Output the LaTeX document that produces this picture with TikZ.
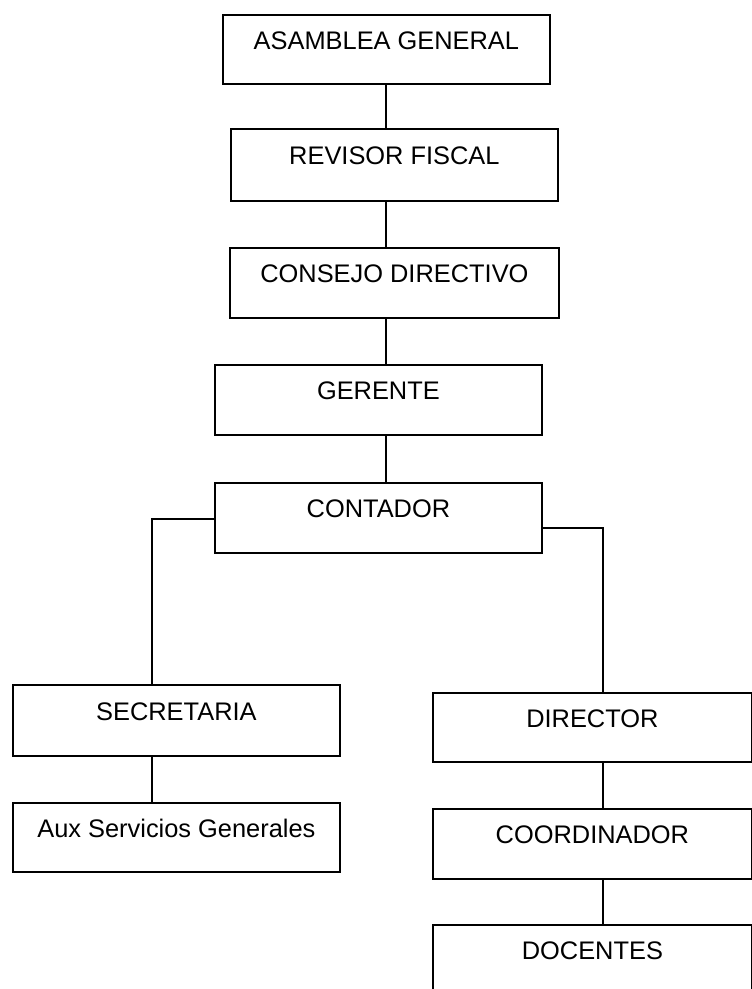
\documentclass[tikz,border=0pt]{standalone}
\usepackage{fontspec}
\setmainfont{Liberation Sans}
\begin{document}
\begin{tikzpicture}[x=1pt,y=-1pt,
  orgbox/.style={draw, line width=1.8pt, rectangle, anchor=north west, inner sep=0pt,
    text height=18pt, text depth=18pt, font=\fontsize{25.4}{30}\selectfont},
  link/.style={line width=1.8pt}]
\clip (0,0) rectangle (752,989);
\fill[white] (0,0) rectangle (752,989);
\node[orgbox, minimum width=327pt, minimum height=69pt] (A) at (222,14) {ASAMBLEA GENERAL};
\node[orgbox, minimum width=327pt, minimum height=72pt] (R) at (230,128) {REVISOR FISCAL};
\node[orgbox, minimum width=329pt, minimum height=70pt] (C) at (229,247) {CONSEJO DIRECTIVO};
\node[orgbox, minimum width=327pt, minimum height=70pt] (G) at (214,364) {GERENTE};
\node[orgbox, minimum width=327pt, minimum height=70pt] (K) at (214,482) {CONTADOR};
\node[orgbox, minimum width=327pt, minimum height=71pt] (S) at (12,684) {SECRETARIA};
\node[orgbox, minimum width=327pt, minimum height=69pt] (X) at (12,802) {Aux Servicios Generales};
\node[orgbox, minimum width=319pt, minimum height=69pt] (D) at (432,692) {DIRECTOR};
\node[orgbox, minimum width=319pt, minimum height=70pt] (O) at (432,808) {COORDINADOR};
\node[orgbox, minimum width=319pt, minimum height=70pt] (T) at (432,924) {DOCENTES};
\coordinate (sp) at (386,0);
\coordinate (lx) at (152,519);
\coordinate (rx) at (603,528);
\draw[link] (A.south -| sp) -- (R.north -| sp);
\draw[link] (R.south -| sp) -- (C.north -| sp);
\draw[link] (C.south -| sp) -- (G.north -| sp);
\draw[link] (G.south -| sp) -- (K.north -| sp);
\draw[link] (K.west |- lx) -| (S.north -| lx);
\draw[link] (K.east |- rx) -| (D.north -| rx);
\draw[link] (S.south -| lx) -- (X.north -| lx);
\draw[link] (D.south -| rx) -- (O.north -| rx);
\draw[link] (O.south -| rx) -- (T.north -| rx);
\end{tikzpicture}
\end{document}
